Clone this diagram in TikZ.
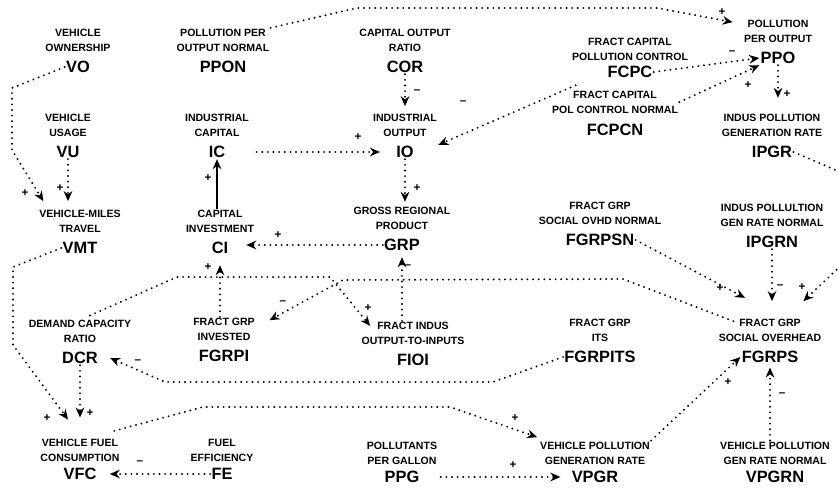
\documentclass[tikz,border=0pt]{standalone}
\usepackage{fontspec}
\setmainfont{Liberation Sans}
\usepackage{tikz}
\usetikzlibrary{positioning, calc, arrows.meta}
\tikzset{
    varname/.style={
        font=\fontsize{14}{16}\selectfont\bfseries, inner sep=1pt
    },
    varlabel/.style={
        font=\fontsize{9}{12.8}\selectfont\bfseries, align=center, inner sep=1pt
    },
    link/.style={
        line width=1.8pt, line cap=round, dash pattern=on 0pt off 4.8pt,
        -{Stealth[length=3mm, width=2.6mm]}
    },
    solidlink/.style={
        line width=1.3pt, -{Stealth[length=3mm, width=2.6mm]}
    },
    signmark/.style={
        font=\fontsize{10}{10}\selectfont\bfseries, inner sep=0pt
    }
}

\begin{document}
\begin{tikzpicture}[x=0.3mm, y=-0.3mm]
        \useasboundingbox[fill=white] (0,0) rectangle (838,492);

        % ======================================
        % VARIABLES (abbreviation + label above)
        % ======================================
        % row 1
        \node[varname] (vo) at (78,67) {VO};
        \node[varlabel, above=2mm of vo] (vol) {VEHICLE\\OWNERSHIP};
        \node[varname] (ppon) at (223,67) {PPON};
        \node[varlabel, above=2mm of ppon] (pponl) {POLLUTION PER\\OUTPUT NORMAL};
        \node[varname] (cor) at (405,67) {COR};
        \node[varlabel, above=2mm of cor] (corl) {CAPITAL OUTPUT\\RATIO};
        \node[varname] (fcpc) at (630,72) {FCPC};
        \node[varlabel, above=0.8mm of fcpc] (fcpcl) {FRACT CAPITAL\\POLLUTION CONTROL};
        \node[varname] (ppo) at (778,58) {PPO};
        \node[varlabel, above=2mm of ppo] (ppol) {POLLUTION\\PER OUTPUT};
        % row 2
        \node[varname] (vu) at (68,152) {VU};
        \node[varlabel, above=2mm of vu] (vul) {VEHICLE\\USAGE};
        \node[varname] (ic) at (217,152) {IC};
        \node[varlabel, above=2mm of ic] (icl) {INDUSTRIAL\\CAPITAL};
        \node[varname] (io) at (405,152) {IO};
        \node[varlabel, above=2mm of io] (iol) {INDUSTRIAL\\OUTPUT};
        \node[varname] (fcpcn) at (615,130) {FCPCN};
        \node[varlabel, above=2.4mm of fcpcn] (fcpcnl) {FRACT CAPITAL\\POL CONTROL NORMAL};
        \node[varname] (ipgr) at (772,152) {IPGR};
        \node[varlabel, above=2mm of ipgr] (ipgrl) {INDUS POLLUTION\\GENERATION RATE};
        % row 3
        \node[varname] (vmt) at (80,248) {VMT};
        \node[varlabel, above=2mm of vmt] (vmtl) {VEHICLE-MILES\\TRAVEL};
        \node[varname] (ci) at (220,248) {CI};
        \node[varlabel, above=2mm of ci] (cil) {CAPITAL\\INVESTMENT};
        \node[varname] (grp) at (402,245) {GRP};
        \node[varlabel, above=2mm of grp] (grpl) {GROSS REGIONAL\\PRODUCT};
        \node[varname] (fgrpsn) at (600,240) {FGRPSN};
        \node[varlabel, above=2mm of fgrpsn] (fgrpsnl) {FRACT GRP\\SOCIAL OVHD NORMAL};
        \node[varname] (ipgrn) at (772,242) {IPGRN};
        \node[varlabel, above=2mm of ipgrn] (ipgrnl) {INDUS POLLULTION\\GEN RATE NORMAL};
        % row 4
        \node[varname] (dcr) at (80,358) {DCR};
        \node[varlabel, above=2mm of dcr] (dcrl) {DEMAND CAPACITY\\RATIO};
        \node[varname] (fgrpi) at (224,356) {FGRPI};
        \node[varlabel, above=2mm of fgrpi] (fgrpil) {FRACT GRP\\INVESTED};
        \node[varname] (fioi) at (413,360) {FIOI};
        \node[varlabel, above=2mm of fioi] (fioil) {FRACT INDUS\\OUTPUT-TO-INPUTS};
        \node[varname] (fgrpits) at (600,357) {FGRPITS};
        \node[varlabel, above=2mm of fgrpits] (fgrpitsl) {FRACT GRP\\ITS};
        \node[varname] (fgrps) at (770,357) {FGRPS};
        \node[varlabel, above=2mm of fgrps] (fgrpsl) {FRACT GRP\\SOCIAL OVERHEAD};
        % row 5
        \node[varname] (vfc) at (80,474) {VFC};
        \node[varlabel, above=1.2mm of vfc] (vfcl) {VEHICLE FUEL\\CONSUMPTION};
        \node[varname] (fe) at (222,474) {FE};
        \node[varlabel, above=1.2mm of fe] (fel) {FUEL\\EFFICIENCY};
        \node[varname] (ppg) at (402,477) {PPG};
        \node[varlabel, above=1.2mm of ppg] (ppgl) {POLLUTANTS\\PER GALLON};
        \node[varname] (vpgr) at (595,477) {VPGR};
        \node[varlabel, above=1.2mm of vpgr] (vpgrl) {VEHICLE POLLUTION\\GENERATION RATE};
        \node[varname] (vpgrn) at (775,477) {VPGRN};
        \node[varlabel, above=1.2mm of vpgrn] (vpgrnl) {VEHICLE POLLUTION\\GEN RATE NORMAL};

        % ======================================
        % CAUSAL LINKS
        % ======================================
        % vehicle sector
        \draw[link] (vo.west) -- (12,88) -- (12,150) -- ($(vmtl.north)+(-11mm,2.4mm)$);
        \draw[link] (vu.south) -- ($(vu.south |- vmtl.north)+(0,2.4mm)$);
        \draw[link] (vmt.west) -- (13,267) -- (13,345) -- ($(vfcl.north)+(-3.6mm,5.4mm)$);
        \draw[link] (dcr.south) -- ($(dcr.south |- vfcl.north)+(0,6mm)$);
        \draw[link] (fe.west) -- ($(vfc.east)+(3.6mm,0)$);
        \draw[link] ($(vfcl.north east)+(-2mm,2mm)$) -- (203,407) -- (450,407) -- ($(vpgrl.north west)+(-0.5mm,1mm)$);
        \draw[link, shorten <=6mm, shorten >=3mm] (ppg.east) -- (vpgr.west);
        \draw[link] (vpgrl.north east) -- (fgrps.west);
        \draw[link] (fgrps.south |- vpgrnl.north) -- ($(fgrps.south)+(0,-1mm)$);
        \draw[link] (fgrpits.west) -- (493,382) -- (165,382) -- ($(dcr.east)+(3.3mm,0)$);

        % crossing links
        \draw[link] ($(dcrl.north)+(3mm,1mm)$) -- (177,277) -- (330,277) -- ($(fioil.north west)+(3mm,-1.5mm)$);
        \draw[link] ($(fgrpsl.north)+(-11mm,-1mm)$) -- (623,279) -- (343,280) -- ($(fgrpil.north east)+(4mm,-1mm)$);

        % capital sector
        \draw[link] (ci.south |- fgrpil.north) -- ($(ci.south)+(0,-3mm)$);
        \draw[link] (grp.west) -- ($(ci.east |- grp.west)+(5mm,0)$);
        \draw[link] (grp.south |- fioil.north) -- ($(grp.south)+(0,-1.5mm)$);
        \draw[link] (io.south) -- ($(io.south |- grpl.north)+(0,1.2mm)$);
        \draw[solidlink] (ic.south |- cil.north) -- (ic.south);
        \draw[link, shorten <=9mm] (ic.east) -- ($(io.west)+(-4.5mm,0)$);
        \draw[link] (cor.south) -- ($(cor.south |- iol.north)+(0,2mm)$);
        \draw[link, shorten <=10mm] (fcpc.west) -- ($(io.north east)+(7mm,0)$);

        % pollution sector
        \draw[link] (fcpc.east) -- (ppo.west);
        \draw[link] (fcpcnl.east) -- (ppo.south west);
        \draw[link] (pponl.north east) -- (357,8) -- (657,8) -- ($(ppol.north west)+(-3mm,-1mm)$);
        \draw[link] (ppo.south) -- ($(ppo.south |- ipgrl.north)+(0,4.5mm)$);
        \draw[link] (ipgr.east) -- (852,177) -- (852,255) -- ($(fgrpsl.north)+(10mm,5mm)$);
        \draw[link] (ipgrn.south) -- ($(ipgrn.south |- fgrpsl.north)+(0,5mm)$);
        \draw[link] (fgrpsn.east) -- ($(fgrpsl.north)+(-7.5mm,6mm)$);

        % ======================================
        % POLARITY SIGNS
        % ======================================
        \node[signmark] (sgvo) at (25,193) {+};
        \node[signmark] (sgvu) at (60,188) {+};
        \node[signmark] (sgvmt) at (47,418) {+};
        \node[signmark] (sgdcr) at (90,413) {+};
        \node[signmark] (sgfe) at (140,463) {--};
        \node[signmark] (sgvfc) at (515,418) {+};
        \node[signmark] (sgppg) at (513,465) {+};
        \node[signmark] (sgvpgr) at (728,382) {+};
        \node[signmark] (sgvpgrn) at (782,395) {--};
        \node[signmark] (sgits) at (138,362) {--};
        \node[signmark] (sgfioi) at (368,308) {+};
        \node[signmark] (sgfgrpi) at (283,303) {--};
        \node[signmark] (sgci) at (208,267) {+};
        \node[signmark] (sggrp) at (278,235) {+};
        \node[signmark] (sgioi) at (408,267) {--};
        \node[signmark] (sgio) at (417,188) {+};
        \node[signmark] (sgic) at (208,178) {+};
        \node[signmark] (sgicio) at (358,137) {+};
        \node[signmark] (sgcor) at (417,92) {--};
        \node[signmark] (sgfcpc) at (463,103) {--};
        \node[signmark] (sgppo) at (732,53) {--};
        \node[signmark] (sgfcpcn) at (748,85) {+};
        \node[signmark] (sgppon) at (722,12) {+};
        \node[signmark] (sgipgr) at (787,94) {+};
        \node[signmark] (sgipgrr) at (802,287) {+};
        \node[signmark] (sgipgrn) at (780,287) {--};
        \node[signmark] (sgfgrpsn) at (720,288) {+};

\end{tikzpicture}
\end{document}
